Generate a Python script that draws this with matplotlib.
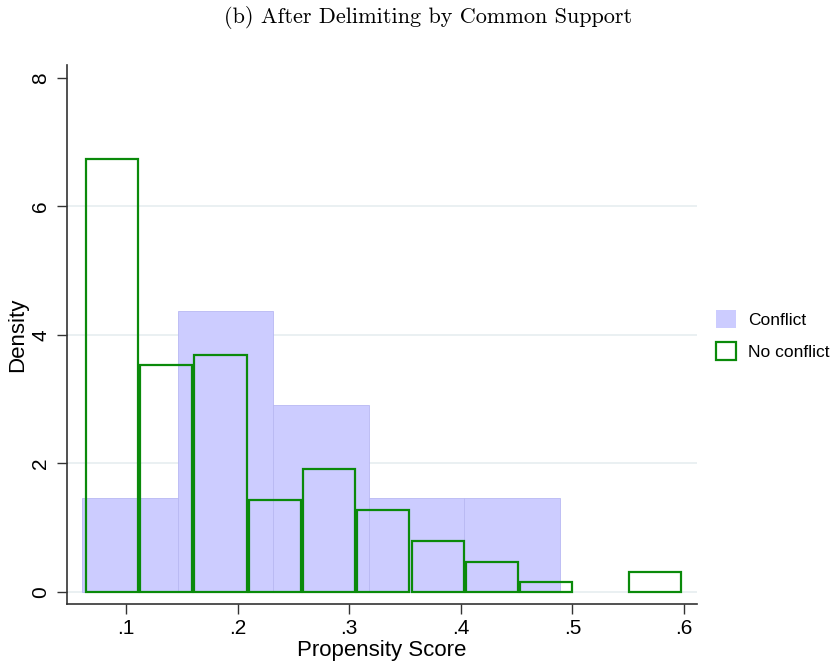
import numpy as np
import matplotlib
matplotlib.use("Agg")
import matplotlib.pyplot as plt
from matplotlib.patches import Patch

# histogram densities, bins given by start + width
conflict_start = 0.0606
conflict_width = 0.08566
conflict_density = [1.46, 4.37, 2.91, 1.46, 1.46]

noconf_start = 0.0630
noconf_width = 0.04866
noconf_density = [6.73, 3.53, 3.69, 1.43, 1.91, 1.28, 0.79, 0.47, 0.156, 0.0, 0.31]

xticks = [0.1, 0.2, 0.3, 0.4, 0.5, 0.6]
xticklabels = [".1", ".2", ".3", ".4", ".5", ".6"]
yticks = [0, 2, 4, 6, 8]

lavender = "#ccccff"
green = "#0a8a0a"

plt.rcParams['font.family'] = ['Liberation Sans', 'DejaVu Sans']

fig = plt.figure(figsize=(8.34, 6.66), dpi=100)
ax = fig.add_axes([0.0803, 0.0931, 0.7554, 0.8093])

# light grid behind the bars (no line at the top tick)
for y in yticks[:-1]:
    ax.axhline(y, color="#e6edf0", lw=1.2, zorder=0)

c_left = conflict_start + conflict_width * np.arange(len(conflict_density))
ax.bar(c_left, conflict_density, width=conflict_width, align='edge',
       color=lavender, edgecolor="#b8b8f2", linewidth=0.6, zorder=1)

nc = np.array(noconf_density)
n_left = noconf_start + noconf_width * np.arange(len(nc))
keep = nc > 0
gap = noconf_width * 0.02
ax.bar(n_left[keep] + gap, nc[keep], width=noconf_width - 2 * gap, align='edge',
       facecolor='none', edgecolor=green, linewidth=1.6, zorder=2)

ax.set_xlim(0.0471, 0.6117)
ax.set_ylim(-0.19, 8.2)
ax.set_xticks(xticks)
ax.set_xticklabels(xticklabels)
ax.set_yticks(yticks)
ax.set_yticklabels([str(t) for t in yticks], rotation=90, va='center')
ax.tick_params(axis='both', labelsize=15, length=7, width=1, color="#333333", pad=4)
ax.tick_params(axis='y', pad=5)

for s in ['top', 'right']:
    ax.spines[s].set_visible(False)
for s in ['left', 'bottom']:
    ax.spines[s].set_color("#333333")
    ax.spines[s].set_linewidth(1.2)

ax.set_xlabel("Propensity Score", fontsize=16, labelpad=1)
ax.set_ylabel("Density", fontsize=16, labelpad=2)

handles = [Patch(facecolor=lavender, edgecolor='none', label="Conflict"),
           Patch(facecolor='none', edgecolor=green, linewidth=1.6, label="No conflict")]
fig.legend(handles=handles, loc='center left', bbox_to_anchor=(0.8585, 0.497),
           frameon=False, fontsize=12.5, handlelength=1.15, handleheight=1.25,
           handletextpad=0.7, labelspacing=0.75, borderaxespad=0, borderpad=0)

fig.text(0.513, 0.974, "(b) After Delimiting by Common Support",
         family='cmr10', fontsize=16, ha='center', va='center')

fig.savefig("out.png", dpi=100)
